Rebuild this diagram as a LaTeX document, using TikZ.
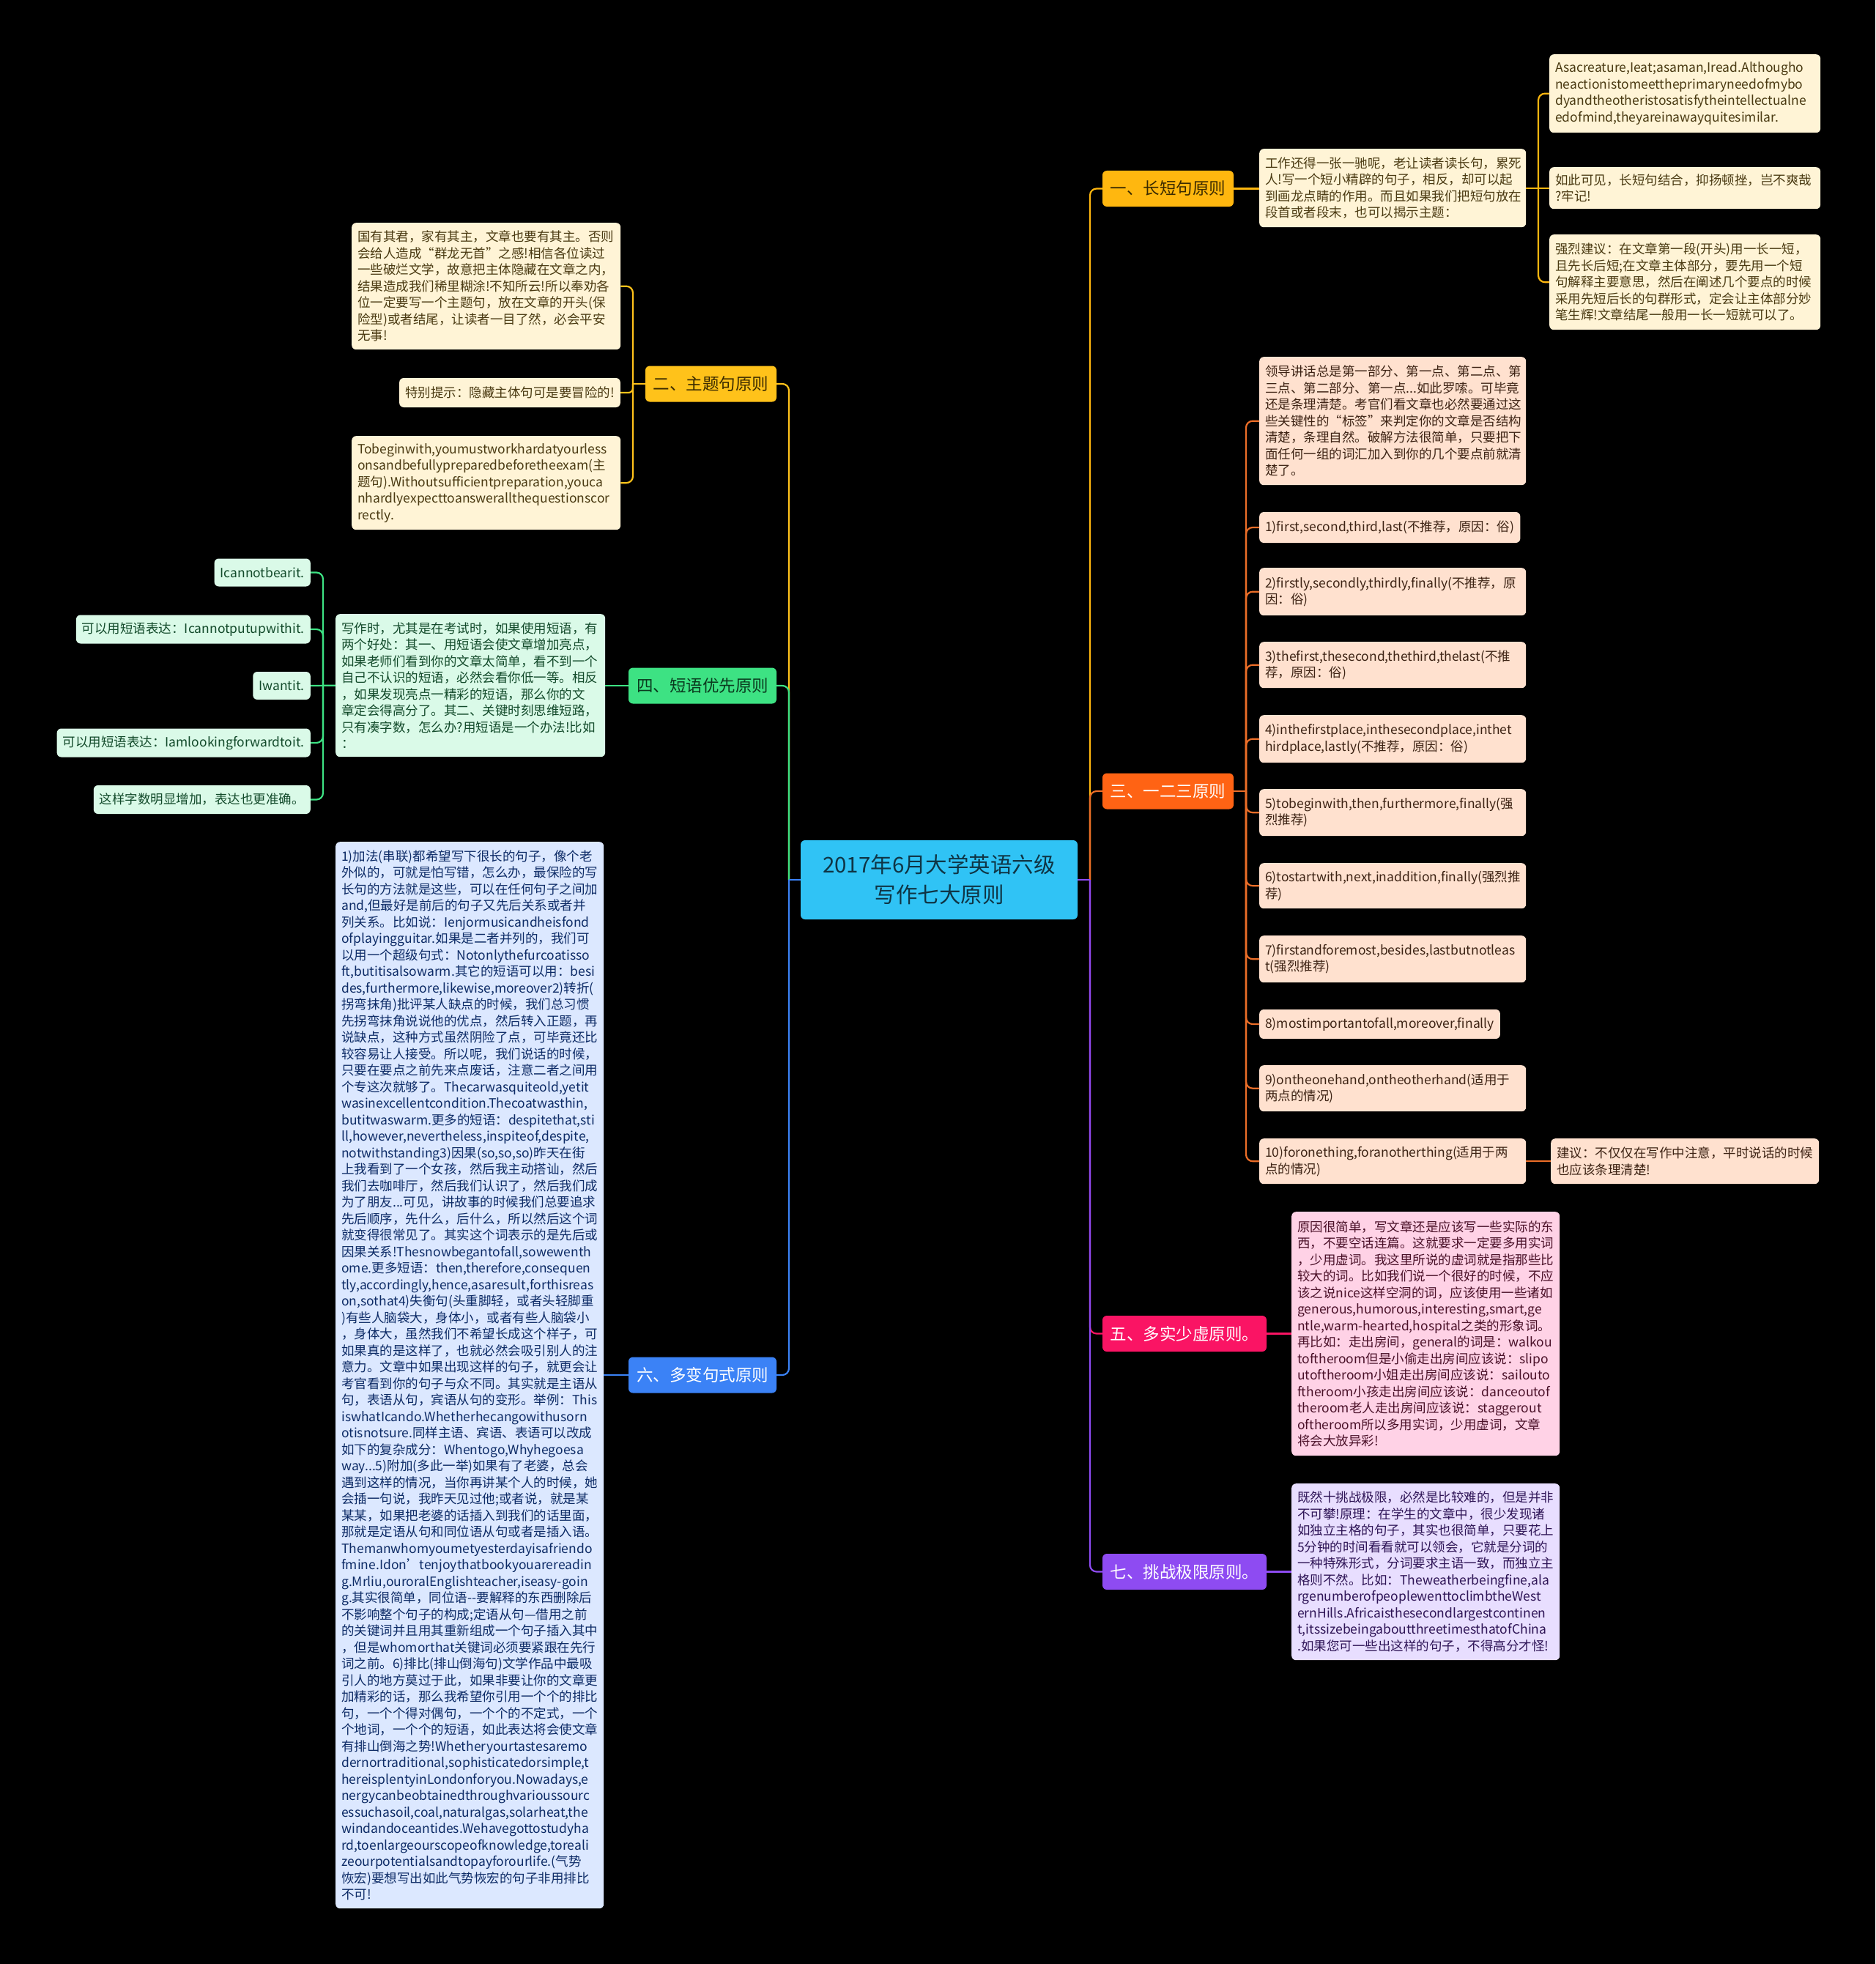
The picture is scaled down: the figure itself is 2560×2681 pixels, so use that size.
\documentclass[tikz,border=0pt]{standalone}
\usepackage{fontspec}
\setmainfont{Noto Sans CJK SC}
\hyphenpenalty=10000 \exhyphenpenalty=10000
\definecolor{cyanc}{HTML}{30C3F5}
\definecolor{centt}{HTML}{0F3545}
\definecolor{amber}{HTML}{FFB70F}
\definecolor{amber2}{HTML}{FFC21A}
\definecolor{darkt}{HTML}{3A2A00}
\definecolor{cream}{HTML}{FFF4D6}
\definecolor{brownt}{HTML}{4A3A12}
\definecolor{orng}{HTML}{FF6314}
\definecolor{orngl}{HTML}{EC6E28}
\definecolor{peach}{HTML}{FFE1CF}
\definecolor{peacht}{HTML}{3D2314}
\definecolor{grn}{HTML}{3DE283}
\definecolor{grnd}{HTML}{0A3A1E}
\definecolor{mint}{HTML}{DAFAE8}
\definecolor{grnt}{HTML}{124A2A}
\definecolor{pinkc}{HTML}{FA1464}
\definecolor{pinkl}{HTML}{FFD2E6}
\definecolor{pinkt}{HTML}{4A1028}
\definecolor{blu}{HTML}{3B82F6}
\definecolor{bluel}{HTML}{DCE8FF}
\definecolor{blut}{HTML}{0D2B66}
\definecolor{purp}{HTML}{8E4BF2}
\definecolor{lav}{HTML}{E8DEFF}
\definecolor{purt}{HTML}{2E1456}
\tikzset{
  sub/.style={rounded corners=6pt, inner xsep=8pt, inner ysep=3pt, align=left,
    font=\fontsize{17.5}{22.5}\selectfont},
  br/.style={rounded corners=6pt, inner sep=0pt, align=center,
    font=\fontsize{22.5}{27}\selectfont, minimum height=49pt},
  ys/.style={sub, fill=cream, text=brownt},
  os/.style={sub, fill=peach, text=peacht},
  ps/.style={sub, fill=pinkl, text=pinkt},
  vs/.style={sub, fill=lav, text=purt},
  gs/.style={sub, fill=mint, text=grnt},
  bs/.style={sub, fill=bluel, text=blut},
  lnk/.style={line width=2.2pt, rounded corners=9pt},
}
\begin{document}
\begin{tikzpicture}[x=1pt,y=-1pt]
\useasboundingbox (0,0) rectangle (2560,2681);
\fill[black] (0,0) rectangle (2560,2681);

% central
\node[rounded corners=6pt, fill=cyanc, text=centt, minimum width=378pt, minimum height=108pt,
  align=center, inner sep=0pt, font=\fontsize{29.5}{41}\selectfont] (c) at (1282,1201)
  {2017年6月大学英语六级\\写作七大原则};

% branches
\node[br, fill=amber, text=darkt, minimum width=179pt] (b1) at (1594.5,257.5) {一、长短句原则};
\node[br, fill=orng, text=white, minimum width=179pt] (b3) at (1594.5,1080) {三、一二三原则};
\node[br, fill=pinkc, text=white, minimum width=224pt] (b5) at (1617,1820.5) {五、多实少虚原则。};
\node[br, fill=purp, text=white, minimum width=224pt] (b7) at (1617,2145.5) {七、挑战极限原则。};
\node[br, fill=amber2, text=darkt, minimum width=179pt] (b2) at (970.5,524) {二、主题句原则};
\node[br, fill=grn, text=grnd, minimum width=202pt] (b4) at (959,936) {四、短语优先原则};
\node[br, fill=blu, text=white, minimum width=202pt] (b6) at (959,1877) {六、多变句式原则};

% branch 1
\node[ys, text width=348pt, minimum height=107pt, anchor=north west] (gz) at (1719,203)
{工作还得一张一驰呢，老让读者读长句，累死\\人!写一个短小精辟的句子，相反，却可以起\\到画龙点睛的作用。而且如果我们把短句放在\\段首或者段末，也可以揭示主题：};
\node[ys, text width=354pt, minimum height=107pt, anchor=north west] (a1) at (2115,74)
{Asacreature,Ieat;asaman,Iread.Althougho\\neactionistomeettheprimaryneedofmybo\\dyandtheotheristosatisfytheintellectualne\\edofmind,theyareinawayquitesimilar.};
\node[ys, text width=354pt, minimum height=57pt, anchor=north west] (a2) at (2115,228)
{如此可见，长短句结合，抑扬顿挫，岂不爽哉\\?牢记!};
\node[ys, text width=354pt, minimum height=130pt, anchor=north west] (a3) at (2115,320)
{强烈建议：在文章第一段(开头)用一长一短，\\且先长后短;在文章主体部分，要先用一个短\\句解释主要意思，然后在阐述几个要点的时候\\采用先短后长的句群形式，定会让主体部分妙\\笔生辉!文章结尾一般用一长一短就可以了。};

% branch 3
\node[os, text width=348pt, minimum height=175pt, anchor=north west] (ld) at (1719,487)
{领导讲话总是第一部分、第一点、第二点、第\\三点、第二部分、第一点...如此罗嗦。可毕竟\\还是条理清楚。考官们看文章也必然要通过这\\些关键性的“标签”来判定你的文章是否结构\\清楚，条理自然。破解方法很简单，只要把下\\面任何一组的词汇加入到你的几个要点前就清\\楚了。};
\node[os, minimum height=42pt, anchor=west] (i1) at (1719,720)
{1)first,second,third,last(不推荐，原因：俗)};
\node[os, text width=348pt, minimum height=65pt, anchor=north west] (i2) at (1719,775)
{2)firstly,secondly,thirdly,finally(不推荐，原\\因：俗)};
\node[os, text width=348pt, minimum height=63pt, anchor=north west] (i3) at (1719,876)
{3)thefirst,thesecond,thethird,thelast(不推\\荐，原因：俗)};
\node[os, text width=348pt, minimum height=65pt, anchor=north west] (i4) at (1719,976)
{4)inthefirstplace,inthesecondplace,inthet\\hirdplace,lastly(不推荐，原因：俗)};
\node[os, text width=348pt, minimum height=64pt, anchor=north west] (i5) at (1719,1077)
{5)tobeginwith,then,furthermore,finally(强\\烈推荐)};
\node[os, text width=348pt, minimum height=62pt, anchor=north west] (i6) at (1719,1178)
{6)tostartwith,next,inaddition,finally(强烈推\\荐)};
\node[os, text width=348pt, minimum height=64pt, anchor=north west] (i7) at (1719,1277)
{7)firstandforemost,besides,lastbutnotleas\\t(强烈推荐)};
\node[os, minimum height=40pt, anchor=west] (i8) at (1719,1398)
{8)mostimportantofall,moreover,finally};
\node[os, text width=348pt, minimum height=63pt, anchor=north west] (i9) at (1719,1454)
{9)ontheonehand,ontheotherhand(适用于\\两点的情况)};
\node[os, text width=348pt, minimum height=62pt, anchor=north west] (i10) at (1719,1554)
{10)foronething,foranotherthing(适用于两\\点的情况)};
\node[os, text width=350pt, minimum height=62pt, anchor=north west] (jy) at (2117,1554)
{建议：不仅仅在写作中注意，平时说话的时候\\也应该条理清楚!};

% branch 5
\node[ps, text width=350pt, minimum height=333pt, anchor=north west] (w5) at (1763,1654)
{原因很简单，写文章还是应该写一些实际的东\\西，不要空话连篇。这就要求一定要多用实词\\，少用虚词。我这里所说的虚词就是指那些比\\较大的词。比如我们说一个很好的时候，不应\\该之说nice这样空洞的词，应该使用一些诸如\\generous,humorous,interesting,smart,ge\\ntle,warm-hearted,hospital之类的形象词。\\再比如：走出房间，general的词是：walkou\\toftheroom但是小偷走出房间应该说：slipo\\utoftheroom小姐走出房间应该说：sailouto\\ftheroom小孩走出房间应该说：danceoutof\\theroom老人走出房间应该说：staggerout\\oftheroom所以多用实词，少用虚词，文章\\将会大放异彩!};

% branch 7
\node[vs, text width=350pt, minimum height=241pt, anchor=north west] (w7) at (1763,2025)
{既然十挑战极限，必然是比较难的，但是并非\\不可攀!原理：在学生的文章中，很少发现诸\\如独立主格的句子，其实也很简单，只要花上\\5分钟的时间看看就可以领会，它就是分词的\\一种特殊形式，分词要求主语一致，而独立主\\格则不然。比如：Theweatherbeingfine,ala\\rgenumberofpeoplewenttoclimbtheWest\\ernHills.Africaisthesecondlargestcontinen\\t,itssizebeingaboutthreetimesthatofChina\\.如果您可一些出这样的句子，不得高分才怪!};

% branch 2
\node[ys, text width=351pt, minimum height=173pt, anchor=north west] (g1) at (480,304)
{国有其君，家有其主，文章也要有其主。否则\\会给人造成“群龙无首”之感!相信各位读过\\一些破烂文学，故意把主体隐藏在文章之内，\\结果造成我们稀里糊涂!不知所云!所以奉劝各\\位一定要写一个主题句，放在文章的开头(保\\险型)或者结尾，让读者一目了然，必会平安\\无事!};
\node[ys, minimum height=40pt, anchor=east] (g2) at (847,536)
{特别提示：隐藏主体句可是要冒险的!};
\node[ys, text width=351pt, minimum height=128pt, anchor=north west] (g3) at (480,595)
{Tobeginwith,youmustworkhardatyourless\\onsandbefullypreparedbeforetheexam(主\\题句).Withoutsufficientpreparation,youca\\nhardlyexpecttoanswerallthequestionscor\\rectly.};

% branch 4
\node[gs, text width=352pt, minimum height=195pt, anchor=north west] (x4) at (458,838)
{写作时，尤其是在考试时，如果使用短语，有\\两个好处：其一、用短语会使文章增加亮点，\\如果老师们看到你的文章太简单，看不到一个\\自己不认识的短语，必然会看你低一等。相反\\，如果发现亮点一精彩的短语，那么你的文\\章定会得高分了。其二、关键时刻思维短路，\\只有凑字数，怎么办?用短语是一个办法!比如\\：};
\node[gs, minimum height=38pt, anchor=east] (l1) at (424,781.5) {Icannotbearit.};
\node[gs, minimum height=39pt, anchor=east] (l2) at (424,859) {可以用短语表达：Icannotputupwithit.};
\node[gs, minimum height=38pt, anchor=east] (l3) at (424,936) {Iwantit.};
\node[gs, minimum height=39pt, anchor=east] (l4) at (424,1014) {可以用短语表达：Iamlookingforwardtoit.};
\node[gs, minimum height=39pt, anchor=east] (l5) at (424,1091.5) {这样字数明显增加，表达也更准确。};

% branch 6
\node[bs, text width=350pt, minimum height=1456pt, anchor=north west] (w6) at (458,1149)
{1)加法(串联)都希望写下很长的句子，像个老\\外似的，可就是怕写错，怎么办，最保险的写\\长句的方法就是这些，可以在任何句子之间加\\and,但最好是前后的句子又先后关系或者并\\列关系。比如说：Ienjormusicandheisfond\\ofplayingguitar.如果是二者并列的，我们可\\以用一个超级句式：Notonlythefurcoatisso\\ft,butitisalsowarm.其它的短语可以用：besi\\des,furthermore,likewise,moreover2)转折(\\拐弯抹角)批评某人缺点的时候，我们总习惯\\先拐弯抹角说说他的优点，然后转入正题，再\\说缺点，这种方式虽然阴险了点，可毕竟还比\\较容易让人接受。所以呢，我们说话的时候，\\只要在要点之前先来点废话，注意二者之间用\\个专这次就够了。Thecarwasquiteold,yetit\\wasinexcellentcondition.Thecoatwasthin,\\butitwaswarm.更多的短语：despitethat,sti\\ll,however,nevertheless,inspiteof,despite,\\notwithstanding3)因果(so,so,so)昨天在街\\上我看到了一个女孩，然后我主动搭讪，然后\\我们去咖啡厅，然后我们认识了，然后我们成\\为了朋友...可见，讲故事的时候我们总要追求\\先后顺序，先什么，后什么，所以然后这个词\\就变得很常见了。其实这个词表示的是先后或\\因果关系!Thesnowbegantofall,sowewenth\\ome.更多短语：then,therefore,consequen\\tly,accordingly,hence,asaresult,forthisreas\\on,sothat4)失衡句(头重脚轻，或者头轻脚重\\)有些人脑袋大，身体小，或者有些人脑袋小\\，身体大，虽然我们不希望长成这个样子，可\\如果真的是这样了，也就必然会吸引别人的注\\意力。文章中如果出现这样的句子，就更会让\\考官看到你的句子与众不同。其实就是主语从\\句，表语从句，宾语从句的变形。举例：This\\iswhatIcando.Whetherhecangowithusorn\\otisnotsure.同样主语、宾语、表语可以改成\\如下的复杂成分：Whentogo,Whyhegoesa\\way...5)附加(多此一举)如果有了老婆，总会\\遇到这样的情况，当你再讲某个人的时候，她\\会插一句说，我昨天见过他;或者说，就是某\\某某，如果把老婆的话插入到我们的话里面，\\那就是定语从句和同位语从句或者是插入语。\\Themanwhomyoumetyesterdayisafriendo\\fmine.Idon’tenjoythatbookyouarereadin\\g.Mrliu,ouroralEnglishteacher,iseasy-goin\\g.其实很简单，同位语-{}-要解释的东西删除后\\不影响整个句子的构成;定语从句—借用之前\\的关键词并且用其重新组成一个句子插入其中\\，但是whomorthat关键词必须要紧跟在先行\\词之前。6)排比(排山倒海句)文学作品中最吸\\引人的地方莫过于此，如果非要让你的文章更\\加精彩的话，那么我希望你引用一个个的排比\\句，一个个得对偶句，一个个的不定式，一个\\个地词，一个个的短语，如此表达将会使文章\\有排山倒海之势!Whetheryourtastesaremo\\dernortraditional,sophisticatedorsimple,t\\hereisplentyinLondonforyou.Nowadays,e\\nergycanbeobtainedthroughvarioussourc\\essuchasoil,coal,naturalgas,solarheat,the\\windandoceantides.Wehavegottostudyha\\rd,toenlargeourscopeofknowledge,toreali\\zeourpotentialsandtopayforourlife.(气势\\恢宏)要想写出如此气势恢宏的句子非用排比\\不可!};

% trunk junctions
\coordinate (jr) at (1488,1201);
\coordinate (jl) at (1077,1201);
\draw[lnk, amber] (jr) |- (b1.west);
\draw[lnk, orngl] (jr) |- (b3.west);
\draw[lnk, pinkc] (jr) |- (b5.west);
\draw[lnk, purp] (jr) |- (b7.west);
\draw[lnk, purp] (c.east) -- (jr);
\draw[lnk, amber2] (jl) |- (b2.east);
\draw[lnk, grn] (jl) |- (b4.east);
\draw[lnk, blu] (jl) |- (b6.east);
\draw[lnk, blu] (c.west) -- (jl);

% branch 1 links
\coordinate (j1) at (2100,256.5);
\draw[lnk, amber] (b1.east) -- (b1.east -| gz.west);
\draw[lnk, amber] (gz.east) -- (a2.west);
\draw[lnk, amber] (j1) |- (a1.west);
\draw[lnk, amber] (j1) |- (a3.west);

% branch 3 links
\coordinate (j3) at (1701,1080);
\draw[lnk, orngl] (b3.east) -- (j3);
\foreach \n in {ld,i1,i2,i3,i4,i5,i6,i7,i8,i9,i10}
  \draw[lnk, orngl] (j3) |- (\n.west);
\draw[lnk, orngl] (i10.east) -- (i10.east -| jy.west);

% branch 5, 7
\draw[lnk, pinkc] (b5.east) -- (b5.east -| w5.west);
\draw[lnk, purp] (b7.east) -- (b7.east -| w7.west);

% branch 2 links
\coordinate (j2) at (864,524);
\draw[lnk, amber2] (b2.west) -- (j2);
\draw[lnk, amber2] (j2) |- (g1.east);
\draw[lnk, amber2, rounded corners=6pt] (j2) |- (g2.east);
\draw[lnk, amber2] (j2) |- (g3.east);

% branch 4 links
\coordinate (j4) at (441,936);
\draw[lnk, grn] (b4.west) -- (b4.west -| x4.east);
\draw[lnk, grn] (x4.west) -- (l3.east);
\draw[lnk, grn] (j4) |- (l1.east);
\draw[lnk, grn] (j4) |- (l2.east);
\draw[lnk, grn] (j4) |- (l4.east);
\draw[lnk, grn] (j4) |- (l5.east);

% branch 6 link
\draw[lnk, blu] (b6.west) -- (b6.west -| w6.east);
\end{tikzpicture}
\end{document}
